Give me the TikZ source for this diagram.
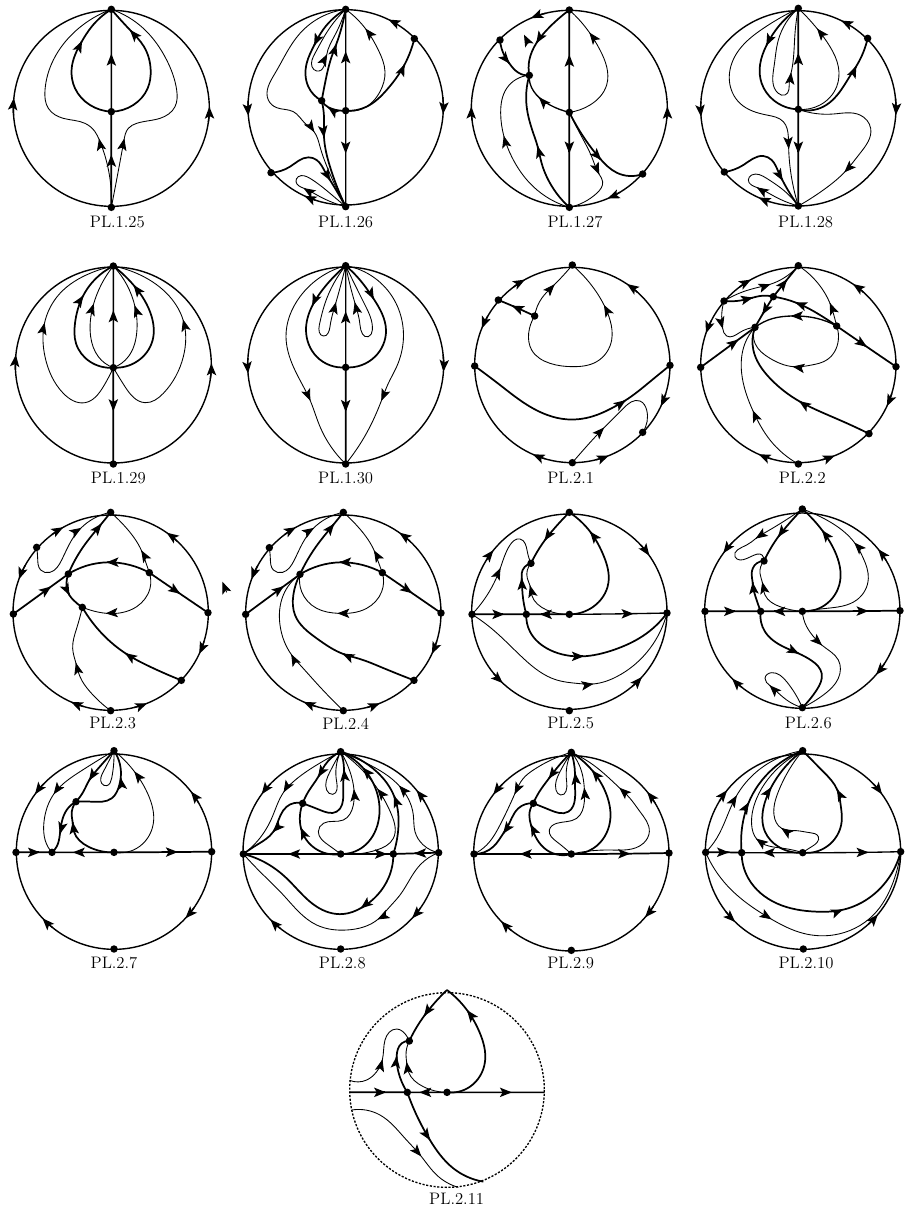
\documentclass[tikz,border=0pt]{standalone}
\usepackage{tikz}
\usetikzlibrary{arrows.meta, calc, hobby}
\tikzset{
  head/.tip    = {Stealth[length=9pt,width=7pt,inset=2pt]},
  rim/.style   = {line width=1.05pt},
  hvy/.style   = {line width=1.3pt},
  mdm/.style   = {line width=1pt},
  lgt/.style   = {line width=0.65pt},
  pt/.style    = {circle, fill=black, inner sep=0pt, minimum size=5.6pt},
  plabel/.style= {font=\fontsize{12.5}{14}\selectfont, inner sep=0pt},
}
\newcommand{\ring}[3]{\coordinate (c) at (#1,#2); \def\rr{#3}; \draw[rim] (c) circle[radius=#3];}
\newcommand{\rimtip}[2]{\draw[rim,-head] (c) ++(#1:\rr) arc[start angle=#1, end angle=#2, radius=\rr];}
% \flow[style]{points}{before tip}{tip}{after tip}{points}
\newcommand{\flow}[6][lgt]{%
  \draw[#1] plot[hobby] coordinates {#2 #3 #4 #5 #6};
  \draw[#1,-head] #4 -- ($#4+0.02*#5-0.02*#3$);}
\begin{document}
\begin{tikzpicture}[x=0.25pt, y=-0.25pt]
  \useasboundingbox (0,0) rectangle (2718,3645);

  % row 1
  \begin{scope}
    \ring{334}{325}{294}
    \node[pt] (t) at (334,28) {}; \node[pt] (b) at (334,622) {}; \node[pt] (s) at (334,335) {};
    \node[plabel] (lab) at (352,665) {PL.1.25};
    \rimtip{176}{186} \rimtip{8}{-1}
    \flow[mdm]{}{(s)}{(334,167)}{(t)}{}
    \flow[hvy]{}{(b)}{(334,470)}{(s)}{}
    \flow[hvy]{(s) (270,315) (225,265)}{(215,205)}{(245,125)}{(275,80)}{(t)}
    \flow[hvy]{(s) (400,315) (443,265) (452,210)}{(432,140)}{(392,92)}{(t)}{}
    \flow{}{(b)}{(298,420)}{(285,395)}{(255,370) (190,355) (145,325) (135,270) (160,180) (230,90) (t)}
    \flow{}{(b)}{(372,420)}{(385,385)}{(410,370) (480,355) (525,320) (530,270) (500,180) (430,85) (t)}

    \ring{1037}{322}{293}
    \node[pt] (t) at (1037,28) {}; \node[pt] (b) at (1037,620) {}; \node[pt] (s) at (1037,332) {};
    \node[pt] (n1) at (965,302) {}; \node[pt] (ur) at (1243,116) {}; \node[pt] (ll) at (813,518) {};
    \node[plabel] (lab) at (1037,665) {PL.1.26};
    \rimtip{184}{175} \rimtip{-6}{4} \rimtip{302}{296} \rimtip{108}{115}
    \flow[mdm]{}{(s)}{(1037,160)}{(t)}{}
    \flow[mdm]{}{(s)}{(1037,455)}{(b)}{}
    \flow[hvy]{(s)}{(1000,328)}{(985,322)}{(n1)}{}
    \flow[hvy]{(n1) (975,250)}{(995,170)}{(1008,135)}{(t)}{}
    \flow[hvy]{(t)}{(962,100)}{(943,135)}{(920,190)}{(925,260) (n1)}
    \flow{(t) (985,90) (945,160) (936,200)}{(950,213)}{(980,165)}{(1005,105)}{(t)}
    \flow[hvy]{(n1)}{(972,350)}{(972,410)}{(990,500)}{(b)}
    \flow{(t) (900,100) (825,220) (805,300) (830,323) (880,335)}{(915,370)}{(942,395)}{(960,440)}{(985,510) (b)}
    \flow[hvy]{(ll) (870,500) (925,472) (950,480)}{(975,515)}{(990,540)}{(b)}{}
    \flow{(b)}{(960,590)}{(912,565)}{(888,545)}{(895,530) (930,535) (990,580) (b)}
    \flow[hvy]{(s) (1100,320) (1160,270)}{(1195,225)}{(1213,195)}{(ur)}{}
    \flow{(s) (1090,325) (1140,275) (1155,215)}{(1135,150)}{(1098,88)}{(t)}{}
  \end{scope}

  \begin{scope}[shift={(1350,0)}]
    \ring{358}{325}{294}
    \node[pt] (t) at (358,30) {}; \node[pt] (b) at (358,622) {}; \node[pt] (s) at (358,337) {};
    \node[pt] (n1) at (238,226) {}; \node[pt] (ul) at (150,120) {}; \node[pt] (lr) at (578,522) {};
    \node[plabel] (lab) at (375,665) {PL.1.27};
    \rimtip{173}{181} \rimtip{6}{-1} \rimtip{256}{247} \rimtip{59}{67}
    \coordinate (sa) at (235,130); \coordinate (sb) at (222,104);
    \draw[lgt,-head] (sa) -- (sb);
    \flow[hvy]{}{(s)}{(358,170)}{(t)}{}
    \flow[hvy]{}{(s)}{(358,455)}{(b)}{}
    \flow[hvy]{(t)}{(300,80)}{(260,128)}{(238,180)}{(n1)}
    \flow[mdm]{(s)}{(300,315)}{(268,293)}{(240,250)}{(n1)}
    \flow{(s) (420,315) (470,255) (470,200)}{(450,150)}{(420,100)}{(t)}{}
    \flow[hvy]{(ul)}{(165,170)}{(178,190)}{(205,218)}{(n1)}
    \flow[hvy]{(b) (290,530)}{(275,490)}{(263,440)}{(250,400)}{(230,320) (n1)}
    \flow{(b) (250,560)}{(185,470)}{(162,410)}{(152,340)}{(170,265) (n1)}
    \flow[hvy]{(s)}{(400,410)}{(452,478)}{(500,518)}{(lr)}
    \flow{(s) (395,410)}{(425,470)}{(447,522)}{(458,545)}{(440,580) (b)}

    \ring{1045}{325}{293}
    \node[pt] (t) at (1045,25) {}; \node[pt] (b) at (1045,618) {}; \node[pt] (s) at (1045,328) {};
    \node[pt] (ur) at (1253,115) {}; \node[pt] (ll) at (823,516) {};
    \node[plabel] (lab) at (1067,665) {PL.1.28};
    \rimtip{184}{175} \rimtip{-6}{4} \rimtip{302}{296} \rimtip{107}{114}
    \flow[hvy]{}{(s)}{(1045,165)}{(t)}{}
    \flow[hvy]{}{(s)}{(1045,455)}{(b)}{}
    \flow[hvy]{(t)}{(985,80)}{(950,135)}{(930,195)}{(935,250) (970,300) (s)}
    \flow{(t) (985,120) (972,200) (985,280) (1005,285)}{(1018,245)}{(1023,220)}{(1035,100)}{(t)}
    \flow[hvy]{(s) (1120,320) (1180,260)}{(1205,220)}{(1218,200)}{(ur)}{}
    \flow{(s) (1110,315) (1160,260) (1165,200)}{(1140,140)}{(1103,88)}{(t)}{}
    \flow{(t) (940,85) (860,160) (838,240) (870,310) (950,345) (1000,365)}{(1015,410)}{(1016,445)}{(1020,500)}{(b)}
    \flow[hvy]{(ll) (880,495) (940,468) (965,480)}{(985,515)}{(997,540)}{(b)}{}
    \flow{(b)}{(975,590)}{(922,563)}{(895,540)}{(905,525) (950,535) (1000,570) (b)}
    \flow{(s) (1150,342) (1230,345) (1262,385)}{(1230,460)}{(1185,515)}{(1120,570)}{(b)}
  \end{scope}

  % row 2
  \begin{scope}[shift={(0,750)}]
    \ring{340}{345}{294}
    \node[pt] (t) at (340,48) {}; \node[pt] (b) at (340,642) {}; \node[pt] (s) at (340,353) {};
    \node[plabel] (lab) at (355,685) {PL.1.29};
    \rimtip{177}{186} \rimtip{8}{-1}
    \flow[mdm]{}{(s)}{(340,187)}{(t)}{}
    \flow[hvy]{}{(s)}{(340,478)}{(b)}{}
    \flow[hvy]{(s) (270,335) (228,280)}{(225,220)}{(248,140)}{(t)}{}
    \flow[hvy]{(s) (410,335) (458,270)}{(455,200)}{(403,108)}{(t)}{}
    \flow{(s) (295,320)}{(272,260)}{(280,165)}{(t)}{}
    \flow{(s) (385,320)}{(410,250)}{(405,170)}{(t)}{}
    \flow{(s) (310,410) (255,458) (190,430)}{(135,320)}{(133,222)}{(180,130)}{(270,70) (t)}
    \flow{(s) (375,410) (435,458) (490,430)}{(550,320)}{(550,212)}{(500,130)}{(410,70) (t)}

    \ring{1037}{345}{294}
    \node[pt] (t) at (1037,47) {}; \node[pt] (b) at (1037,642) {}; \node[pt] (s) at (1037,352) {};
    \node[plabel] (lab) at (1037,685) {PL.1.30};
    \rimtip{184}{175} \rimtip{-6}{4}
    \flow[mdm]{}{(s)}{(1037,190)}{(t)}{}
    \flow[hvy]{}{(s)}{(1037,480)}{(b)}{}
    \flow[hvy]{(t)}{(975,110)}{(938,165)}{(918,240)}{(950,320) (s)}
    \flow[hvy]{(t)}{(1080,90)}{(1120,145)}{(1158,240)}{(1125,320) (s)}
    \flow{(t) (975,160) (958,225) (970,258)}{(990,230)}{(1007,160)}{(t)}{}
    \flow{(t) (1095,165) (1117,240) (1105,260)}{(1080,225)}{(1065,160)}{(t)}{}
    \flow{(t) (900,140) (858,260) (880,350)}{(905,400)}{(930,450)}{(960,530)}{(b)}
    \flow{(t) (1170,130) (1210,270) (1190,350)}{(1165,400)}{(1145,450)}{(1110,530)}{(b)}
  \end{scope}

  \begin{scope}[shift={(1350,750)}]
    \ring{367}{345}{293}
    \node[pt] (t) at (367,45) {}; \node[pt] (b) at (367,638) {}; \node[pt] (l) at (74,348) {}; \node[pt] (r) at (660,346) {};
    \node[pt] (ul) at (145,150) {}; \node[pt] (lr) at (578,547) {}; \node[pt] (n1) at (254,198) {};
    \node[plabel] (lab) at (362,683) {PL.2.1};
    \rimtip{233}{241} \rimtip{210}{202} \rimtip{312}{304} \rimtip{17}{25} \rimtip{76}{68} \rimtip{106}{114}
    \flow[hvy]{}{(n1)}{(188,168)}{(ul)}{}
    \flow{(n1)}{(275,145)}{(312,105)}{(t)}{}
    \flow{(n1) (236,250) (245,300) (300,340) (370,350) (440,335) (485,270)}{(480,210)}{(463,167)}{(420,100)}{(t)}
    \flow[hvy]{(l) (150,405) (240,470) (350,508) (440,495)}{(490,472)}{(525,452)}{(600,395)}{(r)}
    \flow{(b)}{(400,600)}{(460,535)}{(520,475)}{(570,453) (590,480) (lr)}

    \ring{1045}{345}{293}
    \node[pt] (t) at (1045,47) {}; \node[pt] (b) at (1045,642) {}; \node[pt] (l) at (752,352) {}; \node[pt] (r) at (1338,350) {};
    \node[pt] (ul) at (822,153) {}; \node[pt] (lr) at (1257,551) {}; \node[pt] (n2) at (970,140) {};
    \node[pt] (n1) at (915,232) {}; \node[pt] (n3) at (1160,228) {};
    \node[plabel] (lab) at (1057,683) {PL.2.2};
    \rimtip{233}{241} \rimtip{207}{199} \rimtip{312}{304} \rimtip{17}{25} \rimtip{76}{68} \rimtip{106}{114}
    \flow[hvy]{}{(l)}{(862,271)}{(n1)}{}
    \flow{(ul)}{(815,200)}{(818,235)}{(830,258)}{(870,247) (n1)}
    \flow[hvy]{}{(n2)}{(938,192)}{(n1)}{}
    \flow[hvy]{}{(n2)}{(1010,90)}{(t)}{}
    \flow[hvy]{(ul)}{(880,150)}{(908,143)}{(930,138)}{(n2)}
    \flow{(ul) (880,125)}{(925,112)}{(960,103)}{(1000,85)}{(t)}
    \flow[hvy]{}{(n3)}{(1247,288)}{(r)}{}
    \flow[hvy]{(n3)}{(1110,195)}{(1038,158)}{(n2)}{}
    \flow[mdm]{(n3)}{(1100,205)}{(1025,198)}{(970,205)}{(n1)}
    \flow{(n3)}{(1150,190)}{(1140,160)}{(1125,130)}{(t)}
    \flow{(n3) (1165,270) (1130,330)}{(1085,345)}{(1030,350)}{(960,325)}{(915,280) (n1)}
    \flow[hvy]{(lr) (1180,515)}{(1100,480)}{(1050,455)}{(960,385)}{(910,300) (n1)}
    \flow{(b)}{(960,570)}{(910,485)}{(875,370)}{(885,280) (n1)}
  \end{scope}

  % row 3
  \begin{scope}[shift={(0,1485)}]
    \ring{332}{353}{293}
    \node[pt] (t) at (332,52) {}; \node[pt] (b) at (332,647) {}; \node[pt] (l) at (40,357) {}; \node[pt] (r) at (624,353) {};
    \node[pt] (ul) at (110,157) {}; \node[pt] (lr) at (544,556) {}; \node[pt] (n1) at (205,237) {};
    \node[pt] (n3) at (448,233) {}; \node[pt] (n4) at (247,337) {};
    \node[plabel] (lab) at (338,685) {PL.2.3};
    \rimtip{233}{241} \rimtip{209}{200} \rimtip{313}{305} \rimtip{17}{25} \rimtip{76}{68} \rimtip{106}{114}
    \coordinate (sa) at (680,292); \coordinate (sb) at (667,260);
    \draw[lgt,-head] (sa) -- (sb);
    \flow[hvy]{}{(l)}{(150,277)}{(n1)}{}
    \flow[hvy]{(n1)}{(250,155)}{(303,88)}{(t)}{}
    \flow{(ul) (113,190) (122,225) (150,232) (185,195)}{(225,120)}{(242,100)}{(t)}{}
    \flow[hvy]{(n3)}{(390,210)}{(322,202)}{(260,212)}{(n1)}
    \flow{(n3)}{(435,195)}{(425,168)}{(380,100)}{(t)}
    \flow[hvy]{}{(n3)}{(537,294)}{(r)}{}
    \flow{(n3) (450,280)}{(410,335)}{(320,355)}{(270,345)}{(n4)}
    \flow[hvy]{(n1)}{(200,275)}{(208,300)}{(220,315)}{(n4)}
    \flow[hvy]{(lr)}{(450,515)}{(378,476)}{(310,420)}{(n4)}
    \flow{(b) (270,590)}{(240,545)}{(228,505)}{(218,460)}{(230,400) (n4)}

    \ring{1030}{353}{293}
    \node[pt] (t) at (1030,52) {}; \node[pt] (b) at (1030,647) {}; \node[pt] (l) at (737,358) {}; \node[pt] (r) at (1323,354) {};
    \node[pt] (ul) at (808,158) {}; \node[pt] (lr) at (1242,556) {}; \node[pt] (n1) at (900,238) {}; \node[pt] (n3) at (1147,233) {};
    \node[plabel] (lab) at (1037,685) {PL.2.4};
    \rimtip{233}{241} \rimtip{209}{200} \rimtip{313}{305} \rimtip{17}{25} \rimtip{76}{68} \rimtip{106}{114}
    \flow[hvy]{}{(l)}{(848,276)}{(n1)}{}
    \flow[hvy]{(n1)}{(948,155)}{(1001,88)}{(t)}{}
    \flow{(ul) (811,190) (820,225) (848,232) (883,195)}{(923,120)}{(940,100)}{(t)}{}
    \flow[hvy]{(n3)}{(1088,210)}{(1020,202)}{(958,212)}{(n1)}
    \flow{(n3)}{(1133,195)}{(1123,168)}{(1078,100)}{(t)}
    \flow[hvy]{}{(n3)}{(1233,292)}{(r)}{}
    \flow{(n3) (1145,290)}{(1100,340)}{(1015,355)}{(950,340)}{(905,290) (n1)}
    \flow[hvy]{(lr) (1140,515)}{(1080,492)}{(1030,477)}{(950,430)}{(885,360) (880,300) (n1)}
    \flow{(b) (950,565)}{(905,515)}{(875,480)}{(840,390)}{(850,300) (n1)}
  \end{scope}

  \begin{scope}[shift={(1350,1485)}]
    \ring{358}{350}{293}
    \node[pt] (t) at (358,52) {}; \node[pt] (b) at (358,647) {}; \node[pt] (l) at (66,358) {}; \node[pt] (r) at (651,354) {};
    \node[pt] (n2) at (229,358) {}; \node[pt] (s) at (358,358) {}; \node[pt] (n1) at (243,205) {};
    \node[plabel] (lab) at (362,685) {PL.2.5};
    \rimtip{212}{219} \rimtip{317}{325} \rimtip{141}{133} \rimtip{50}{42}
    \flow[hvy]{}{(l)}{(160,358)}{(n2)}{}
    \flow[hvy]{}{(s)}{(272,358)}{(n2)}{}
    \flow[mdm]{}{(s)}{(545,356)}{(r)}{}
    \flow[hvy]{(t)}{(315,98)}{(285,135)}{(n1)}{}
    \flow[hvy]{(s) (430,335) (475,265)}{(460,180)}{(422,112)}{(t)}{}
    \flow{(s) (290,345)}{(245,300)}{(240,272)}{(232,250)}{(n1)}
    \flow[hvy]{(n2)}{(218,300)}{(215,250)}{(215,235)}{(n1)}
    \flow{(l)}{(105,310)}{(150,222)}{(180,150)}{(210,132) (232,170) (n1)}
    \flow[hvy]{(n2) (240,410)}{(300,465)}{(398,484)}{(490,465)}{(590,415) (r)}
    \flow{(l) (130,405) (220,490) (320,555)}{(380,565)}{(428,567)}{(500,545)}{(600,460) (r)}

    \ring{1057}{347}{293}
    \node[pt] (t) at (1057,42) {}; \node[pt] (b) at (1057,638) {}; \node[pt] (l) at (765,349) {}; \node[pt] (r) at (1350,347) {};
    \node[pt] (n2) at (932,349) {}; \node[pt] (s) at (1057,349) {}; \node[pt] (n1) at (942,198) {};
    \node[plabel] (lab) at (1075,685) {PL.2.6};
    \rimtip{224}{216} \rimtip{329}{321} \rimtip{33}{41} \rimtip{128}{136}
    \flow[hvy]{}{(l)}{(855,349)}{(n2)}{}
    \flow[hvy]{}{(s)}{(972,349)}{(n2)}{}
    \flow[hvy]{}{(s)}{(1250,348)}{(r)}{}
    \flow[hvy]{(t)}{(1005,100)}{(985,125)}{(965,155)}{(n1)}
    \flow[hvy]{(s) (1125,330) (1170,260)}{(1155,170)}{(1118,108)}{(t)}{}
    \flow{(s) (1130,340) (1220,315) (1255,250)}{(1240,190)}{(1215,145)}{(1130,75)}{(t)}
    \flow{(t)}{(950,110)}{(918,130)}{(890,150)}{(855,185) (870,195) (942,190) (n1)}
    \flow{(s) (990,335)}{(945,300)}{(937,262)}{(930,235)}{(n1)}
    \flow[hvy]{(n2) (915,300)}{(910,280)}{(908,262)}{(905,235)}{(920,205) (n1)}
    \flow[hvy]{(n2) (945,410)}{(1000,455)}{(1045,475)}{(1085,497)}{(1115,535) (1100,585) (b)}
    \flow{(s) (1070,395)}{(1095,430)}{(1115,450)}{(1165,495)}{(1165,550) (1120,600) (b)}
    \flow{(b)}{(1010,615)}{(960,572)}{(945,550)}{(965,533) (1010,560) (b)}
  \end{scope}

  % row 4
  \begin{scope}[shift={(0,2205)}]
    \ring{342}{350}{293}
    \node[pt] (t) at (342,47) {}; \node[pt] (b) at (342,642) {}; \node[pt] (l) at (48,352) {}; \node[pt] (r) at (635,350) {};
    \node[pt] (n2) at (156,352) {}; \node[pt] (s) at (342,352) {}; \node[pt] (n1) at (228,200) {};
    \node[plabel] (lab) at (342,685) {PL.2.7};
    \rimtip{224}{216} \rimtip{330}{322} \rimtip{35}{43} \rimtip{129}{137}
    \flow[hvy]{}{(l)}{(118,352)}{(n2)}{}
    \flow[mdm]{}{(s)}{(222,352)}{(n2)}{}
    \flow[hvy]{}{(s)}{(528,351)}{(r)}{}
    \flow[hvy]{(t)}{(295,100)}{(268,135)}{(250,170)}{(n1)}
    \flow[hvy]{(s) (265,335)}{(222,290)}{(218,262)}{(215,240)}{(n1)}
    \flow{(s) (410,340) (460,265)}{(445,180)}{(405,112)}{(t)}{}
    \flow[hvy]{(n1)}{(200,225)}{(180,295)}{(170,335)}{(n2)}
    \flow{(t)}{(240,110)}{(163,175)}{(132,260)}{(150,345) (n2)}
    \draw[lgt] plot[hobby] coordinates {(t) (310,110) (305,145) (320,152) (335,130) (t)};
    \flow[hvy]{(n1) (275,200) (335,190)}{(358,150)}{(362,130)}{(t)}{}

    \ring{1022}{350}{293}
    \node[pt] (t) at (1022,50) {}; \node[pt] (b) at (1022,642) {}; \node[pt] (l) at (730,357) {}; \node[pt] (r) at (1316,353) {};
    \node[pt] (s) at (1022,357) {}; \node[pt] (n2) at (1180,357) {}; \node[pt] (n1) at (908,205) {};
    \node[plabel] (lab) at (1027,685) {PL.2.8};
    \rimtip{224}{216} \rimtip{329}{321} \rimtip{35}{43} \rimtip{128}{136}
    \flow[mdm]{}{(s)}{(870,357)}{(l)}{}
    \flow[hvy]{}{(s)}{(1158,357)}{(n2)}{}
    \flow[hvy]{}{(r)}{(1245,355)}{(n2)}{}
    \flow{(t) (950,90)}{(880,140)}{(852,170)}{(815,250)}{(775,315) (l)}
    \flow[hvy]{(t)}{(975,90)}{(955,125)}{(925,170)}{(n1)}
    \flow[hvy]{(n1) (860,215)}{(830,270)}{(820,290)}{(770,330)}{(l)}
    \flow[hvy]{(s)}{(945,340)}{(903,280)}{(900,240)}{(n1)}
    \flow[hvy]{(n1) (960,225) (1010,230) (1030,180)}{(1030,140)}{(1032,105)}{(t)}{}
    \draw[lgt] plot[hobby] coordinates {(t) (990,110) (980,165) (998,178) (1010,140) (t)};
    \flow{(s) (985,330) (955,290) (970,265) (1030,255)}{(1060,210)}{(1062,165)}{(1050,110)}{(t)}
    \flow[hvy]{(s) (1090,335) (1135,260)}{(1130,170)}{(1090,100)}{(t)}{}
    \flow{(s) (1130,345) (1180,310)}{(1175,240)}{(1135,165)}{(t)}{}
    \flow[hvy]{(n2)}{(1195,280)}{(1183,185)}{(1130,110)}{(t)}
    \flow{(r) (1270,330) (1245,290)}{(1240,240)}{(1200,155)}{(1100,85)}{(t)}
    \flow[hvy]{(n2)}{(1165,430)}{(1085,518)}{(1030,537)}{(950,515) (860,430) (800,385) (l)}
    \flow{(r) (1260,390) (1200,480)}{(1165,520)}{(1135,552)}{(1040,585)}{(950,570) (850,480) (780,410) (l)}
  \end{scope}

  \begin{scope}[shift={(1350,2205)}]
    \ring{364}{355}{293}
    \node[pt] (t) at (364,52) {}; \node[pt] (b) at (364,646) {}; \node[pt] (l) at (72,357) {}; \node[pt] (r) at (657,354) {};
    \node[pt] (s) at (364,357) {}; \node[pt] (n1) at (250,205) {};
    \node[plabel] (lab) at (362,685) {PL.2.9};
    \rimtip{225}{217} \rimtip{329}{321} \rimtip{33}{41} \rimtip{128}{136}
    \flow[mdm]{}{(s)}{(215,357)}{(l)}{}
    \flow[hvy]{}{(s)}{(535,356)}{(r)}{}
    \flow[hvy]{(t)}{(320,100)}{(297,130)}{(265,175)}{(n1)}
    \flow[hvy]{(n1) (205,220)}{(170,280)}{(160,295)}{(130,335)}{(l)}
    \flow{(t) (250,105)}{(220,130)}{(195,175)}{(150,270)}{(110,330) (l)}
    \flow[hvy]{(s)}{(290,345)}{(243,270)}{(238,240)}{(n1)}
    \flow[hvy]{(n1) (300,225) (355,230) (375,190)}{(375,150)}{(375,115)}{(t)}{}
    \draw[lgt] plot[hobby] coordinates {(t) (330,110) (318,165) (332,180) (350,140) (t)};
    \flow{(s) (320,320) (298,285) (320,265) (380,250)}{(403,200)}{(403,160)}{(395,110)}{(t)}
    \flow[hvy]{(s) (430,340) (480,260)}{(470,180)}{(428,108)}{(t)}{}
    \flow{(s) (480,345) (580,325) (598,290) (570,230)}{(540,190)}{(510,160)}{(430,90)}{(t)}

    \ring{1059}{350}{293}
    \node[pt] (t) at (1058,47) {}; \node[pt] (b) at (1060,642) {}; \node[pt] (l) at (767,352) {}; \node[pt] (r) at (1352,350) {};
    \node[pt] (n2) at (875,353) {}; \node[pt] (s) at (1058,353) {};
    \node[plabel] (lab) at (1068,685) {PL.2.10};
    \rimtip{211}{219} \rimtip{316}{324} \rimtip{142}{134} \rimtip{48}{40}
    \flow[hvy]{}{(l)}{(835,352)}{(n2)}{}
    \flow[mdm]{}{(s)}{(942,353)}{(n2)}{}
    \flow[mdm]{}{(s)}{(1250,352)}{(r)}{}
    \flow[hvy]{(s) (1130,335) (1175,260)}{(1172,210)}{(1162,165)}{(1120,110)}{(t)}
    \flow[hvy]{(s) (985,335) (945,290)}{(940,220)}{(962,160)}{(t)}{}
    \flow[hvy]{(n2)}{(880,255)}{(895,205)}{(970,100)}{(t)}
    \flow{(l)}{(800,310)}{(858,185)}{(920,110)}{(t)}
    \flow{(s)}{(1000,340)}{(920,312)}{(905,270)}{(920,190) (1000,85) (t)}
    \flow{(s) (1085,335) (1105,305) (1080,293)}{(1040,287)}{(995,280)}{(972,240)}{(985,170) (t)}
    \flow[hvy]{(n2) (895,430) (980,505)}{(1100,530)}{(1175,525)}{(1300,450)}{(r)}
    \flow{(l)}{(830,450)}{(960,550)}{(1060,595)}{(1150,600) (1270,540) (1330,440) (r)}
  \end{scope}

  % last row
  \begin{scope}[shift={(990,2925)}]
    \coordinate (c) at (351,345);
    \draw[mdm, dash pattern=on 1.6pt off 1.2pt] (c) circle[radius=292];
    \coordinate (t) at (351,45); \coordinate (lft) at (59,352); \coordinate (rgt) at (644,352);
    \coordinate (ua) at (59,316); \coordinate (la) at (65,405); \coordinate (ea) at (460,620); \coordinate (eb) at (385,637);
    \node[pt] (n2) at (232,352) {}; \node[pt] (s) at (351,352) {}; \node[pt] (n1) at (238,198) {};
    \node[plabel] (lab) at (380,672) {PL.2.11};
    \flow[hvy]{}{(lft)}{(165,352)}{(n2)}{}
    \flow[mdm]{}{(s)}{(270,352)}{(n2)}{}
    \flow[mdm]{}{(s)}{(540,352)}{(rgt)}{}
    \flow[hvy]{(t)}{(300,100)}{(283,122)}{(255,165)}{(n1)}
    \flow[hvy]{(s) (420,335) (465,260)}{(450,175)}{(413,108)}{(t)}{}
    \flow{(s) (280,335)}{(235,290)}{(230,262)}{(228,240)}{(n1)}
    \flow[hvy]{(n2)}{(205,290)}{(200,245)}{(215,205)}{(n1)}
    \flow{(ua) (110,315)}{(140,290)}{(157,255)}{(165,195)}{(200,162) (228,180) (n1)}
    \flow[hvy]{(n2)}{(255,410)}{(298,492)}{(370,580)}{(ea)}
    \flow{(la) (150,420)}{(225,490)}{(272,542)}{(320,600)}{(eb)}
  \end{scope}

\end{tikzpicture}
\end{document}
